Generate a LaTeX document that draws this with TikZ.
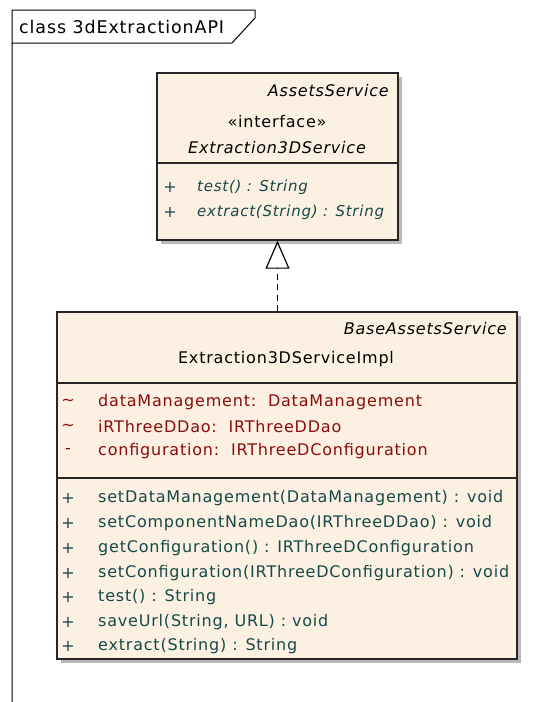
\documentclass[tikz,border=0pt]{standalone}
\usepackage{fontspec}
\setmainfont{DejaVu Sans}[LetterSpace=5]
\usetikzlibrary{arrows.meta, positioning, shadows}
\definecolor{cream}{RGB}{251,240,225}
\definecolor{shade}{RGB}{185,185,185}
\definecolor{attrred}{RGB}{140,12,12}
\definecolor{opteal}{RGB}{22,74,74}

\tikzset{
  classbox/.style={draw=black!85, line width=1.4pt, fill=cream, inner sep=0pt,
    drop shadow={shadow xshift=3.5pt, shadow yshift=-3.5pt, fill=shade, opacity=1}},
  classline/.style={draw=black!85, line width=1.4pt},
  txt/.style={inner sep=0pt, font=\fontsize{16}{18}\selectfont},
  ittxt/.style={inner sep=0pt, font=\fontsize{16}{18}\selectfont\itshape},
  member/.style={txt, anchor=west},
  vis/.style={txt},
  realize/.style={line width=1.3pt, dash pattern=on 6pt off 4.5pt,
    -{Triangle[width=24pt, length=28pt, fill=white, line width=1.2pt]}},
}

\begin{document}
\begin{tikzpicture}[x=1pt, y=-1pt]
    \useasboundingbox (0,0) rectangle (551,702);

    % package frame
    \draw[line width=1pt] (12,702) -- (12,10) -- (255,10) -- (255,18) -- (232,43) -- (12,43);
    \node[member, font=\fontsize{17.5}{20}\selectfont] (title) at (19,27) {class 3dExtractionAPI};

    % interface
    \node[classbox, minimum width=241pt, minimum height=167pt] (iface) at (277.5,156.5) {};
    \coordinate (ifl) at (157,163);
    \coordinate (ifr) at (398,163);
    \draw[classline] (ifl) -- (ifr);
    \node[ittxt, anchor=east] (ifbase) at (389,91) {AssetsService};
    \node[txt] (ifstereo) at (277,122) {«interface»};
    \node[ittxt] (ifname) at (277,148) {Extraction3DService};
    \node[vis, opteal] (ifv1) at (170,187) {+};
    \node[vis, opteal] (ifv2) at (170,212) {+};
    \node[ittxt, anchor=west, opteal, font=\fontsize{15}{18}\selectfont\itshape] (ifm1) at (197,187) {test() : String};
    \node[ittxt, anchor=west, opteal, font=\fontsize{15}{18}\selectfont\itshape] (ifm2) at (197,212) {extract(String) : String};

    % implementation
    \node[classbox, minimum width=460pt, minimum height=347pt] (impl) at (287,485.5) {};
    \coordinate (iml1) at (57,383);
    \coordinate (imr1) at (517,383);
    \coordinate (iml2) at (57,478);
    \coordinate (imr2) at (517,478);
    \draw[classline] (iml1) -- (imr1);
    \draw[classline] (iml2) -- (imr2);
    \node[ittxt, anchor=east] (imbase) at (507,329) {BaseAssetsService};
    \node[txt] (imname) at (286,359) {Extraction3DServiceImpl};

    \node[vis, attrred] (av1) at (68,402) {\char`\~};
    \node[vis, attrred] (av2) at (68,427) {\char`\~};
    \node[vis, attrred] (av3) at (68,451) {-};
    \node[member, attrred] (a1) at (98,402) {dataManagement:\ \ DataManagement};
    \node[member, attrred] (a2) at (98,427) {iRThreeDDao:\ \ IRThreeDDao};
    \node[member, attrred] (a3) at (98,451) {configuration:\ \ IRThreeDConfiguration};

    \foreach \y/\m in {498/{setDataManagement(DataManagement) : void},
                       523/{setComponentNameDao(IRThreeDDao) : void},
                       548/{getConfiguration() : IRThreeDConfiguration},
                       573/{setConfiguration(IRThreeDConfiguration) : void},
                       597/{test() : String},
                       622/{saveUrl(String, URL) : void},
                       646/{extract(String) : String}} {
        \node[vis, opteal] (mv\y) at (68,\y) {+};
        \node[member, opteal] (m\y) at (98,\y) {\m};
    }

    % realization
    \draw[realize] (iface.south |- impl.north) -- (iface.south);
\end{tikzpicture}
\end{document}
